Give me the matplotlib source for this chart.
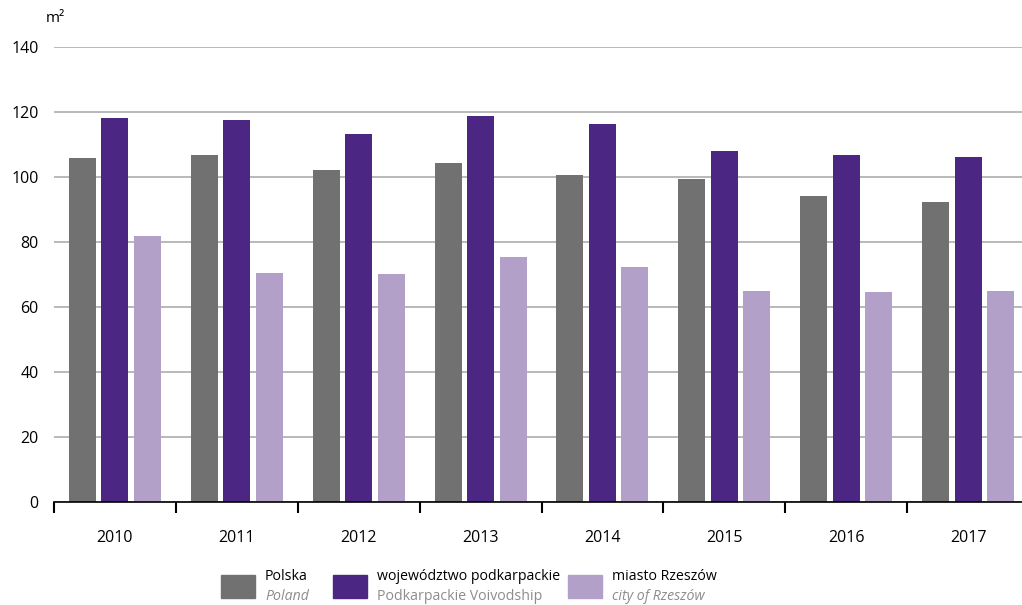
import matplotlib
matplotlib.use("Agg")
import matplotlib.pyplot as plt
import numpy as np
from matplotlib.patches import Rectangle

years = ["2010", "2011", "2012", "2013", "2014", "2015", "2016", "2017"]
polska = [105.8, 106.8, 102.2, 104.3, 100.6, 99.4, 94.2, 92.3]
podkarpackie = [118.2, 117.5, 113.2, 118.8, 116.3, 108.0, 106.8, 106.2]
rzeszow = [81.8, 70.5, 70.2, 75.4, 72.3, 64.9, 64.6, 64.9]
yticks = [0, 20, 40, 60, 80, 100, 120, 140]

series = [
    ("Polska", "Poland", True, polska, "#717171"),
    ("województwo podkarpackie", "Podkarpackie Voivodship", False, podkarpackie, "#4b2683"),
    ("miasto Rzeszów", "city of Rzeszów", True, rzeszow, "#b3a0c9"),
]

plt.rcParams["font.family"] = ["Open Sans", "DejaVu Sans"]

W, H = 1022, 605
fig = plt.figure(figsize=(W / 100, H / 100), dpi=100)
# axes run past the right edge: the original is cropped there
ax = fig.add_axes([54 / W, (H - 502) / H, (1029 - 54) / W, (502 - 47) / H])

x = np.arange(len(years))
offsets = [-0.2666, 0.0, 0.2666]
for (name, _, _, vals, color), off in zip(series, offsets):
    ax.bar(x + off, vals, width=0.2215, color=color, zorder=3)

ax.set_xlim(-0.5, len(years) - 0.5)
ax.set_ylim(0, 140)
ax.set_yticks(yticks)
ax.set_yticklabels([str(v) for v in yticks], fontsize=11.5)
ax.tick_params(axis="y", length=0, pad=11)
ax.yaxis.grid(True, color="#a6a6a6", linewidth=1.1, zorder=0)
ax.set_axisbelow(True)

ax.set_xticks(np.arange(-0.5, len(years) + 0.5, 1.0))
ax.set_xticklabels([])
ax.tick_params(axis="x", which="major", length=8, width=1.5, direction="out", color="black")
ax.set_xticks(x, minor=True)
ax.set_xticklabels(years, minor=True, fontsize=11.5)
ax.tick_params(axis="x", which="minor", length=0, pad=20)

for side in ("left", "right", "top"):
    ax.spines[side].set_visible(False)
ax.spines["bottom"].set_color("black")
ax.spines["bottom"].set_linewidth(1.2)
ax.spines["bottom"].set_zorder(4)

fig.text(46 / W, 1 - 18 / H, "m²", fontsize=11, ha="left", va="center")

# legend drawn by hand: box + two-line label (Polish / English)
legend_x = [221, 333, 568]
for (pl, en, italic, _, color), lx in zip(series, legend_x):
    fig.patches.append(Rectangle((lx / W, 1 - 598 / H), 34 / W, 23 / H,
                                 transform=fig.transFigure, color=color))
    fig.text((lx + 44) / W, 1 - 576 / H, pl, fontsize=10.2, ha="left", va="center")
    fig.text((lx + 44) / W, 1 - 597 / H, en, fontsize=10.2, ha="left", va="center",
             color="#8c8c8c", style="italic" if italic else "normal")

fig.savefig("out.png", dpi=100)
